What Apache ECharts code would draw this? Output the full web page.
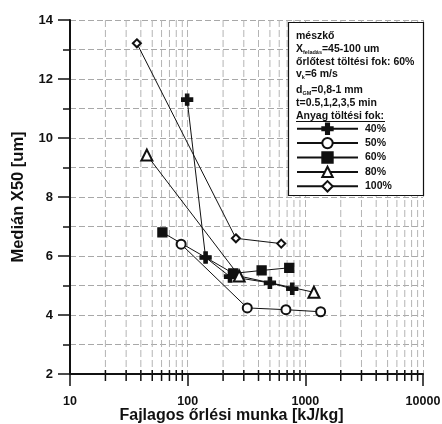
<!DOCTYPE html>
<html>
<head>
<meta charset="utf-8">
<script src="https://cdn.jsdelivr.net/npm/echarts@6/dist/echarts.min.js"></script>
<style>
  html, body { margin: 0; padding: 0; background: #fff; overflow: hidden; }
  #chart { width: 442px; height: 424px; }
</style>
</head>
<body>
<div id="chart"></div>
<script>
// Specific grinding energy [kJ/kg] vs. median particle size X50 [um]
const series40 = [[99, 11.3], [142, 5.95], [229, 5.30], [500, 5.09], [774, 4.89]];
const series50 = [[88, 6.40], [321, 4.24], [684, 4.18], [1349, 4.11]];
const series60 = [[61, 6.80], [244, 5.41], [425, 5.51], [730, 5.60]];
const series80 = [[45, 9.42], [274, 5.32], [1183, 4.77]];
const series100 = [[37, 13.21], [257, 6.60], [624, 6.42]];

const seriesNames = ['40%', '50%', '60%', '80%', '100%'];
// intermediate decade values for the log axis (grid + minor ticks)
const minorX = [20, 30, 40, 50, 60, 70, 80, 90, 200, 300, 400, 500, 600, 700, 800, 900,
                2000, 3000, 4000, 5000, 6000, 7000, 8000, 9000];

const headerLines = [
  '{b|mészkő}',
  '{b|X}{s|feladás}{b|=45-100 um}',
  '{b|őrlőtest töltési fok: 60%}',
  '{b|v}{s|k}{b|=6 m/s}',
  '{b|d}{s|GM}{b|=0,8-1 mm}',
  '{b|t=0.5,1,2,3,5 min}',
  '{b|Anyag töltési fok:}'
];

const FONT = '"Liberation Sans", Arial, sans-serif';
const INK = '#111';
const plusPath = 'path://M3.5,0 H6.5 V3.5 H10 V6.5 H6.5 V10 H3.5 V6.5 H0 V3.5 H3.5 Z';

const chart = echarts.init(document.getElementById('chart'), null, { renderer: 'canvas', width: 442, height: 424 });

function lineSeries(name, data, symbol, size) {
  return {
    name: name,
    type: 'line',
    data: data,
    symbol: symbol,
    symbolSize: size,
    z: 3,
    lineStyle: { color: INK, width: 1 },
    itemStyle: { color: INK, borderColor: INK, borderWidth: 1.3 },
    emphasis: { disabled: true },
    animation: false
  };
}

const headerTop = [35, 47.7, 60.7, 73.3, 88.7, 101.7, 115];

const graphics = [
  {
    type: 'rect', z: 5,
    shape: { x: 288.5, y: 22.5, width: 135, height: 173 },
    style: { fill: '#fff', stroke: INK, lineWidth: 1.2 }
  },
  {
    type: 'line', z: 6,
    shape: { x1: 296, y1: 121.5, x2: 385, y2: 121.5 },
    style: { stroke: INK, lineWidth: 1.2 }
  }
].concat(headerLines.map((t, i) => ({
  type: 'text', z: 6,
  x: 296, y: headerTop[i],
  style: {
    text: t,
    verticalAlign: 'middle',
    rich: {
      b: { fontFamily: FONT, fontWeight: 'bold', fontSize: 10.5, fill: INK, lineHeight: 13, verticalAlign: 'bottom' },
      s: { fontFamily: FONT, fontWeight: 'bold', fontSize: 5.5, fill: INK, lineHeight: 13, verticalAlign: 'bottom', padding: [0, 0, -1, 0] }
    }
  }
})));

chart.setOption({
  animation: false,
  backgroundColor: '#fff',
  grid: { left: 70, right: 19, top: 20, bottom: 50, containLabel: false, outerBoundsMode: 'none' },
  xAxis: {
    type: 'log',
    logBase: 10,
    min: 10,
    max: 10000,
    name: 'Fajlagos őrlési munka [kJ/kg]',
    nameLocation: 'middle',
    nameGap: 34,
    nameMoveOverlap: false,
    nameTextStyle: { fontFamily: FONT, fontWeight: 'bold', fontSize: 16, color: INK, padding: [0, 30, 0, 0] },
    axisLine: { show: true, lineStyle: { color: INK, width: 2 } },
    axisTick: { show: true, length: 12, lineStyle: { color: INK, width: 1.5 } },
    axisLabel: {
      margin: 21,
      fontFamily: FONT, fontWeight: 'bold', fontSize: 12.5, color: INK,
      formatter: v => String(Math.round(v))
    },
    splitLine: { show: true, lineStyle: { color: '#b4b4b4', width: 1, type: [7, 3] } }
  },
  yAxis: {
    type: 'value',
    min: 2,
    max: 14,
    interval: 2,
    name: 'Medián X50 [um]',
    nameLocation: 'middle',
    nameGap: 43,
    nameMoveOverlap: false,
    nameTextStyle: { fontFamily: FONT, fontWeight: 'bold', fontSize: 16.5, color: INK },
    axisLine: { show: true, lineStyle: { color: INK, width: 2 } },
    axisTick: { show: true, length: 12, lineStyle: { color: INK, width: 1.5 } },
    minorTick: { show: true, splitNumber: 2, length: 7, lineStyle: { color: INK, width: 1.5 } },
    axisLabel: { margin: 17, fontFamily: FONT, fontWeight: 'bold', fontSize: 13, color: INK },
    splitLine: { show: true, lineStyle: { color: '#a8a8a8', width: 1, type: [6, 3] } },
    minorSplitLine: { show: true, lineStyle: { color: '#a8a8a8', width: 1, type: [6, 3] } }
  },
  legend: {
    data: seriesNames,
    orient: 'vertical',
    left: 296,
    top: 122.5,
    padding: 0,
    z: 10,
    itemWidth: 61,
    itemHeight: 13,
    itemGap: 2,
    selectedMode: false,
    textStyle: { fontFamily: FONT, fontWeight: 'bold', fontSize: 10.5, color: INK, padding: [0, 0, 0, 2] }
  },
  graphic: graphics,
  series: [
    {
      // dashed grid lines and small ticks at the in-between decade values
      type: 'custom',
      silent: true,
      z: 1,
      clip: false,
      data: minorX.map(v => [v, 2]),
      encode: { x: 0, y: 1 },
      renderItem: (params, api) => {
        const bottom = api.coord([api.value(0), 2]);
        const top = api.coord([api.value(0), 14]);
        return {
          type: 'group',
          children: [
            {
              type: 'line',
              shape: { x1: bottom[0], y1: top[1], x2: bottom[0], y2: bottom[1] },
              style: { stroke: '#b4b4b4', lineWidth: 1, lineDash: [7, 3] }
            },
            {
              type: 'line',
              shape: { x1: bottom[0], y1: bottom[1] - 4, x2: bottom[0], y2: bottom[1] + 7 },
              style: { stroke: INK, lineWidth: 1.5 }
            }
          ]
        };
      }
    },
    lineSeries('40%', series40, plusPath, 11),
    lineSeries('50%', series50, 'emptyCircle', 9),
    lineSeries('60%', series60, 'rect', 9),
    lineSeries('80%', series80, 'emptyTriangle', 11),
    lineSeries('100%', series100, 'emptyDiamond', 8)
  ]
});
</script>
</body>
</html>
